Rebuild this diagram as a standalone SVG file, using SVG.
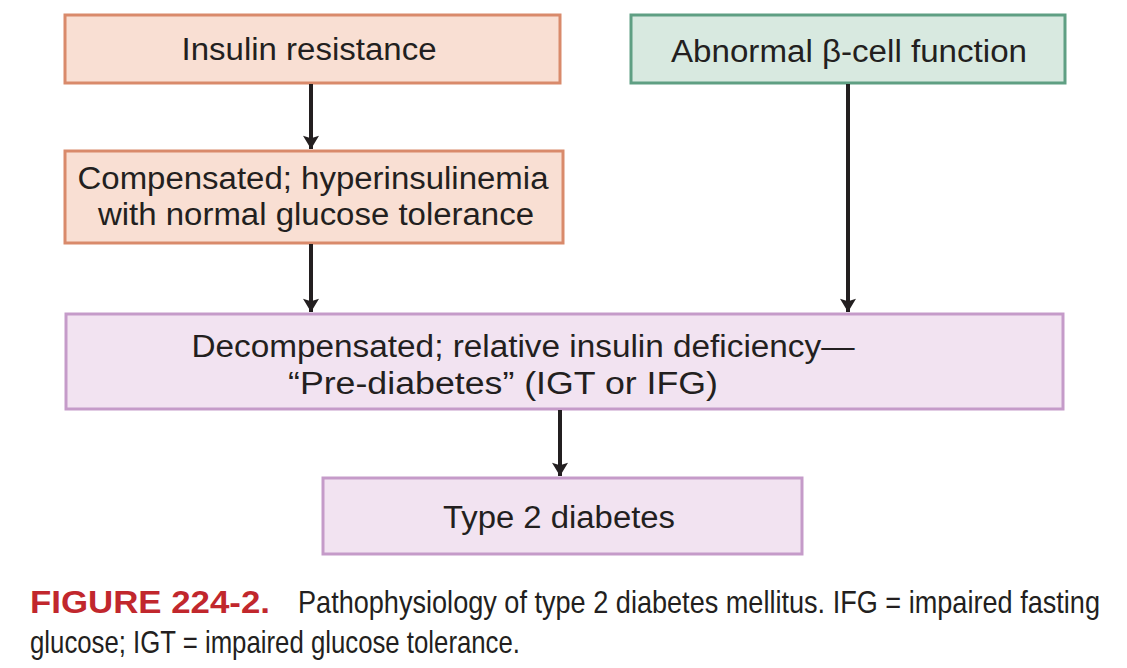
<svg xmlns="http://www.w3.org/2000/svg" width="1127" height="668" viewBox="0 0 1127 668">
<defs>
<style>
.peach{fill:#f9dfd3;stroke:#d98a6b;stroke-width:3}
.green{fill:#d8e9e0;stroke:#5f9f83;stroke-width:3}
.purple{fill:#f2e3f1;stroke:#c59bc9;stroke-width:3}
.t{font-family:"Liberation Sans",Arial,sans-serif;font-size:31px;fill:#231f20;text-anchor:middle}
.cap{font-family:"Liberation Sans",Arial,sans-serif;font-size:24px;fill:#231f20}
.capb{font-family:"Liberation Sans",Arial,sans-serif;font-size:24px;font-weight:bold;fill:#c1272d}
.conn line{stroke:#231f20;stroke-width:4}
</style>
<marker id="ah" viewBox="0 0 10 12" refX="10" refY="6" markerWidth="4.5" markerHeight="4" markerUnits="strokeWidth" orient="auto">
<path d="M0,0 L10,6 L0,12 L2,6 z" fill="#231f20"/>
</marker>
</defs>
<rect width="1127" height="668" fill="#ffffff"/>
<g id="n1">
<rect class="peach" x="65" y="15" width="495" height="68"/>
<text class="t" x="309" y="60" textLength="255" lengthAdjust="spacingAndGlyphs">Insulin resistance</text>
</g>
<g id="n2">
<rect class="green" x="631" y="15" width="434" height="68"/>
<text class="t" x="849" y="62" textLength="356" lengthAdjust="spacingAndGlyphs">Abnormal β-cell function</text>
</g>
<g id="n3">
<rect class="peach" x="65" y="151" width="498" height="92"/>
<text class="t" x="313" y="189" textLength="471" lengthAdjust="spacingAndGlyphs">Compensated; hyperinsulinemia</text>
<text class="t" x="316" y="225" textLength="436" lengthAdjust="spacingAndGlyphs">with normal glucose tolerance</text>
</g>
<g id="n4">
<rect class="purple" x="66" y="314" width="997" height="95"/>
<text class="t" x="523" y="357" textLength="663" lengthAdjust="spacingAndGlyphs">Decompensated; relative insulin deficiency—</text>
<text class="t" x="503" y="394" textLength="430" lengthAdjust="spacingAndGlyphs">“Pre-diabetes” (IGT or IFG)</text>
</g>
<g id="n5">
<rect class="purple" x="323" y="478" width="479" height="76"/>
<text class="t" x="559" y="528" textLength="232" lengthAdjust="spacingAndGlyphs">Type 2 diabetes</text>
</g>
<g id="connectors" class="conn">
<line x1="311" y1="84" x2="311" y2="149" marker-end="url(#ah)"/>
<line x1="311" y1="244" x2="311" y2="312" marker-end="url(#ah)"/>
<line x1="848" y1="84" x2="848" y2="312" marker-end="url(#ah)"/>
<line x1="560" y1="410" x2="560" y2="476" marker-end="url(#ah)"/>
</g>
<g id="caption">
<g transform="translate(0,613) scale(1,1.33)">
<text class="capb" x="30" y="0" textLength="240" lengthAdjust="spacingAndGlyphs">FIGURE 224-2.</text>
<text class="cap" x="298" y="0" textLength="802" lengthAdjust="spacingAndGlyphs">Pathophysiology of type 2 diabetes mellitus. IFG = impaired fasting</text>
</g>
<g transform="translate(0,653) scale(1,1.33)">
<text class="cap" x="30" y="0" textLength="490" lengthAdjust="spacingAndGlyphs">glucose; IGT = impaired glucose tolerance.</text>
</g>
</g>
</svg>
